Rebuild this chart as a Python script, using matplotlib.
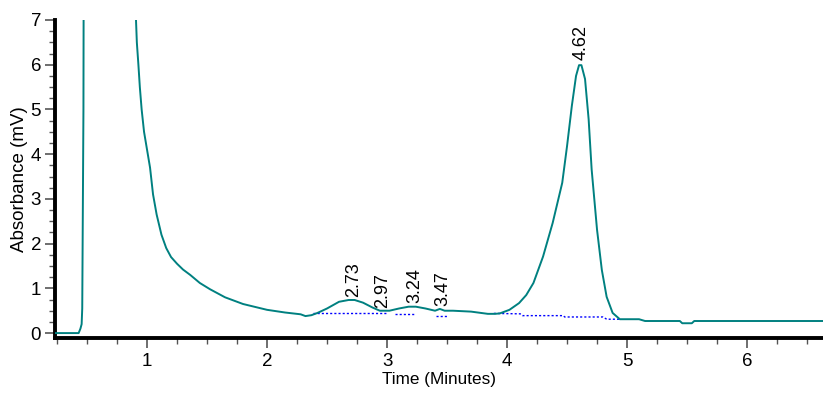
import matplotlib
matplotlib.use("Agg")
import matplotlib.pyplot as plt
from matplotlib.ticker import MultipleLocator

plt.rcParams['font.family'] = ['Liberation Sans', 'DejaVu Sans']

time = [0.233, 0.40, 0.43, 0.445, 0.455, 0.46, 0.47, 0.48, 0.90, 0.908, 0.915, 0.928, 0.94,
        0.955, 0.975, 1.0, 1.025, 1.05, 1.08, 1.12, 1.16, 1.20, 1.25, 1.30, 1.36, 1.44, 1.525,
        1.65, 1.8, 2.0, 2.15, 2.28, 2.32, 2.37, 2.42, 2.5, 2.6, 2.68, 2.73, 2.8,
        2.88, 2.94, 3.02, 3.1, 3.18, 3.24, 3.32, 3.4, 3.44, 3.48, 3.55, 3.7, 3.84,
        3.9, 3.94, 4.02, 4.1, 4.16, 4.22, 4.3, 4.38, 4.46, 4.5, 4.54, 4.575, 4.6,
        4.62, 4.65, 4.68, 4.705, 4.75, 4.79, 4.83, 4.88, 4.94, 5.0, 5.1, 5.15,
        5.44, 5.46, 5.54, 5.56, 6.633]
absorb = [0.0, 0.0, 0.0, 0.1, 0.2, 0.55, 5.0, 20.0, 20.0, 7.0, 6.5, 6.0, 5.5,
          5.0, 4.5, 4.1, 3.7, 3.1, 2.65, 2.2, 1.9, 1.7, 1.55, 1.42, 1.3, 1.12, 0.98,
          0.8, 0.65, 0.52, 0.46, 0.42, 0.38, 0.40, 0.45, 0.55, 0.70, 0.74, 0.74, 0.68,
          0.57, 0.50, 0.50, 0.55, 0.59, 0.59, 0.55, 0.50, 0.54, 0.50, 0.50, 0.48, 0.43,
          0.43, 0.44, 0.52, 0.67, 0.85, 1.12, 1.71, 2.46, 3.36, 4.18, 5.08, 5.75, 5.99,
          5.99, 5.68, 4.78, 3.66, 2.31, 1.41, 0.81, 0.45, 0.31, 0.31, 0.31, 0.27,
          0.27, 0.22, 0.22, 0.27, 0.27]

base_segments = [
    ([2.38, 3.0], [0.44, 0.44]),
    ([3.07, 3.23], [0.43, 0.43]),
    ([3.41, 3.51], [0.38, 0.38]),
    ([3.89, 4.11, 4.13, 4.47, 4.48, 4.80, 4.83, 4.94], [0.44, 0.43, 0.39, 0.39, 0.36, 0.36, 0.31, 0.31]),
]

peak_times = [2.73, 2.97, 3.24, 3.47, 4.62]
peak_labels = ["2.73", "2.97", "3.24", "3.47", "4.62"]
peak_heights = [0.76, 0.52, 0.62, 0.56, 6.05]

fig = plt.figure(figsize=(8.23, 3.97), dpi=100)
ax = fig.add_axes([55/823, 59/397, 1 - 55/823, 318/397])

ax.plot(time, absorb, color='#008080', lw=1.4, zorder=3)
for xs, ys in base_segments:
    ax.plot(xs, ys, color='#0000ff', lw=1.0, ls=(0, (1.5, 1.5)), zorder=2)

for t, lab, h in zip(peak_times, peak_labels, peak_heights):
    ax.text(t - 0.005, h + 0.05, lab, rotation=90, ha='center', va='bottom', fontsize=13)

ax.set_xlim(0.233, 6.633)
ax.set_ylim(-0.11, 7.0)
ax.xaxis.set_major_locator(MultipleLocator(1))
ax.xaxis.set_minor_locator(MultipleLocator(0.25))
ax.yaxis.set_major_locator(MultipleLocator(1))
ax.yaxis.set_minor_locator(MultipleLocator(0.25))

for s in ['top', 'right']:
    ax.spines[s].set_visible(False)
for s in ['left', 'bottom']:
    ax.spines[s].set_linewidth(2.8)
    ax.spines[s].set_color('black')

ax.tick_params(axis='both', which='major', direction='out', length=7, width=1.2,
               color='#555555', labelsize=13.5)
ax.tick_params(axis='y', which='major', pad=3)
ax.tick_params(axis='both', which='minor', direction='out', length=4, width=1.0,
               color='#555555')
ax.set_xlabel('Time (Minutes)', fontsize=12.3, labelpad=2)
ax.set_ylabel('Absorbance (mV)', fontsize=13.5, labelpad=2)

fig.savefig('out.png', dpi=100)
